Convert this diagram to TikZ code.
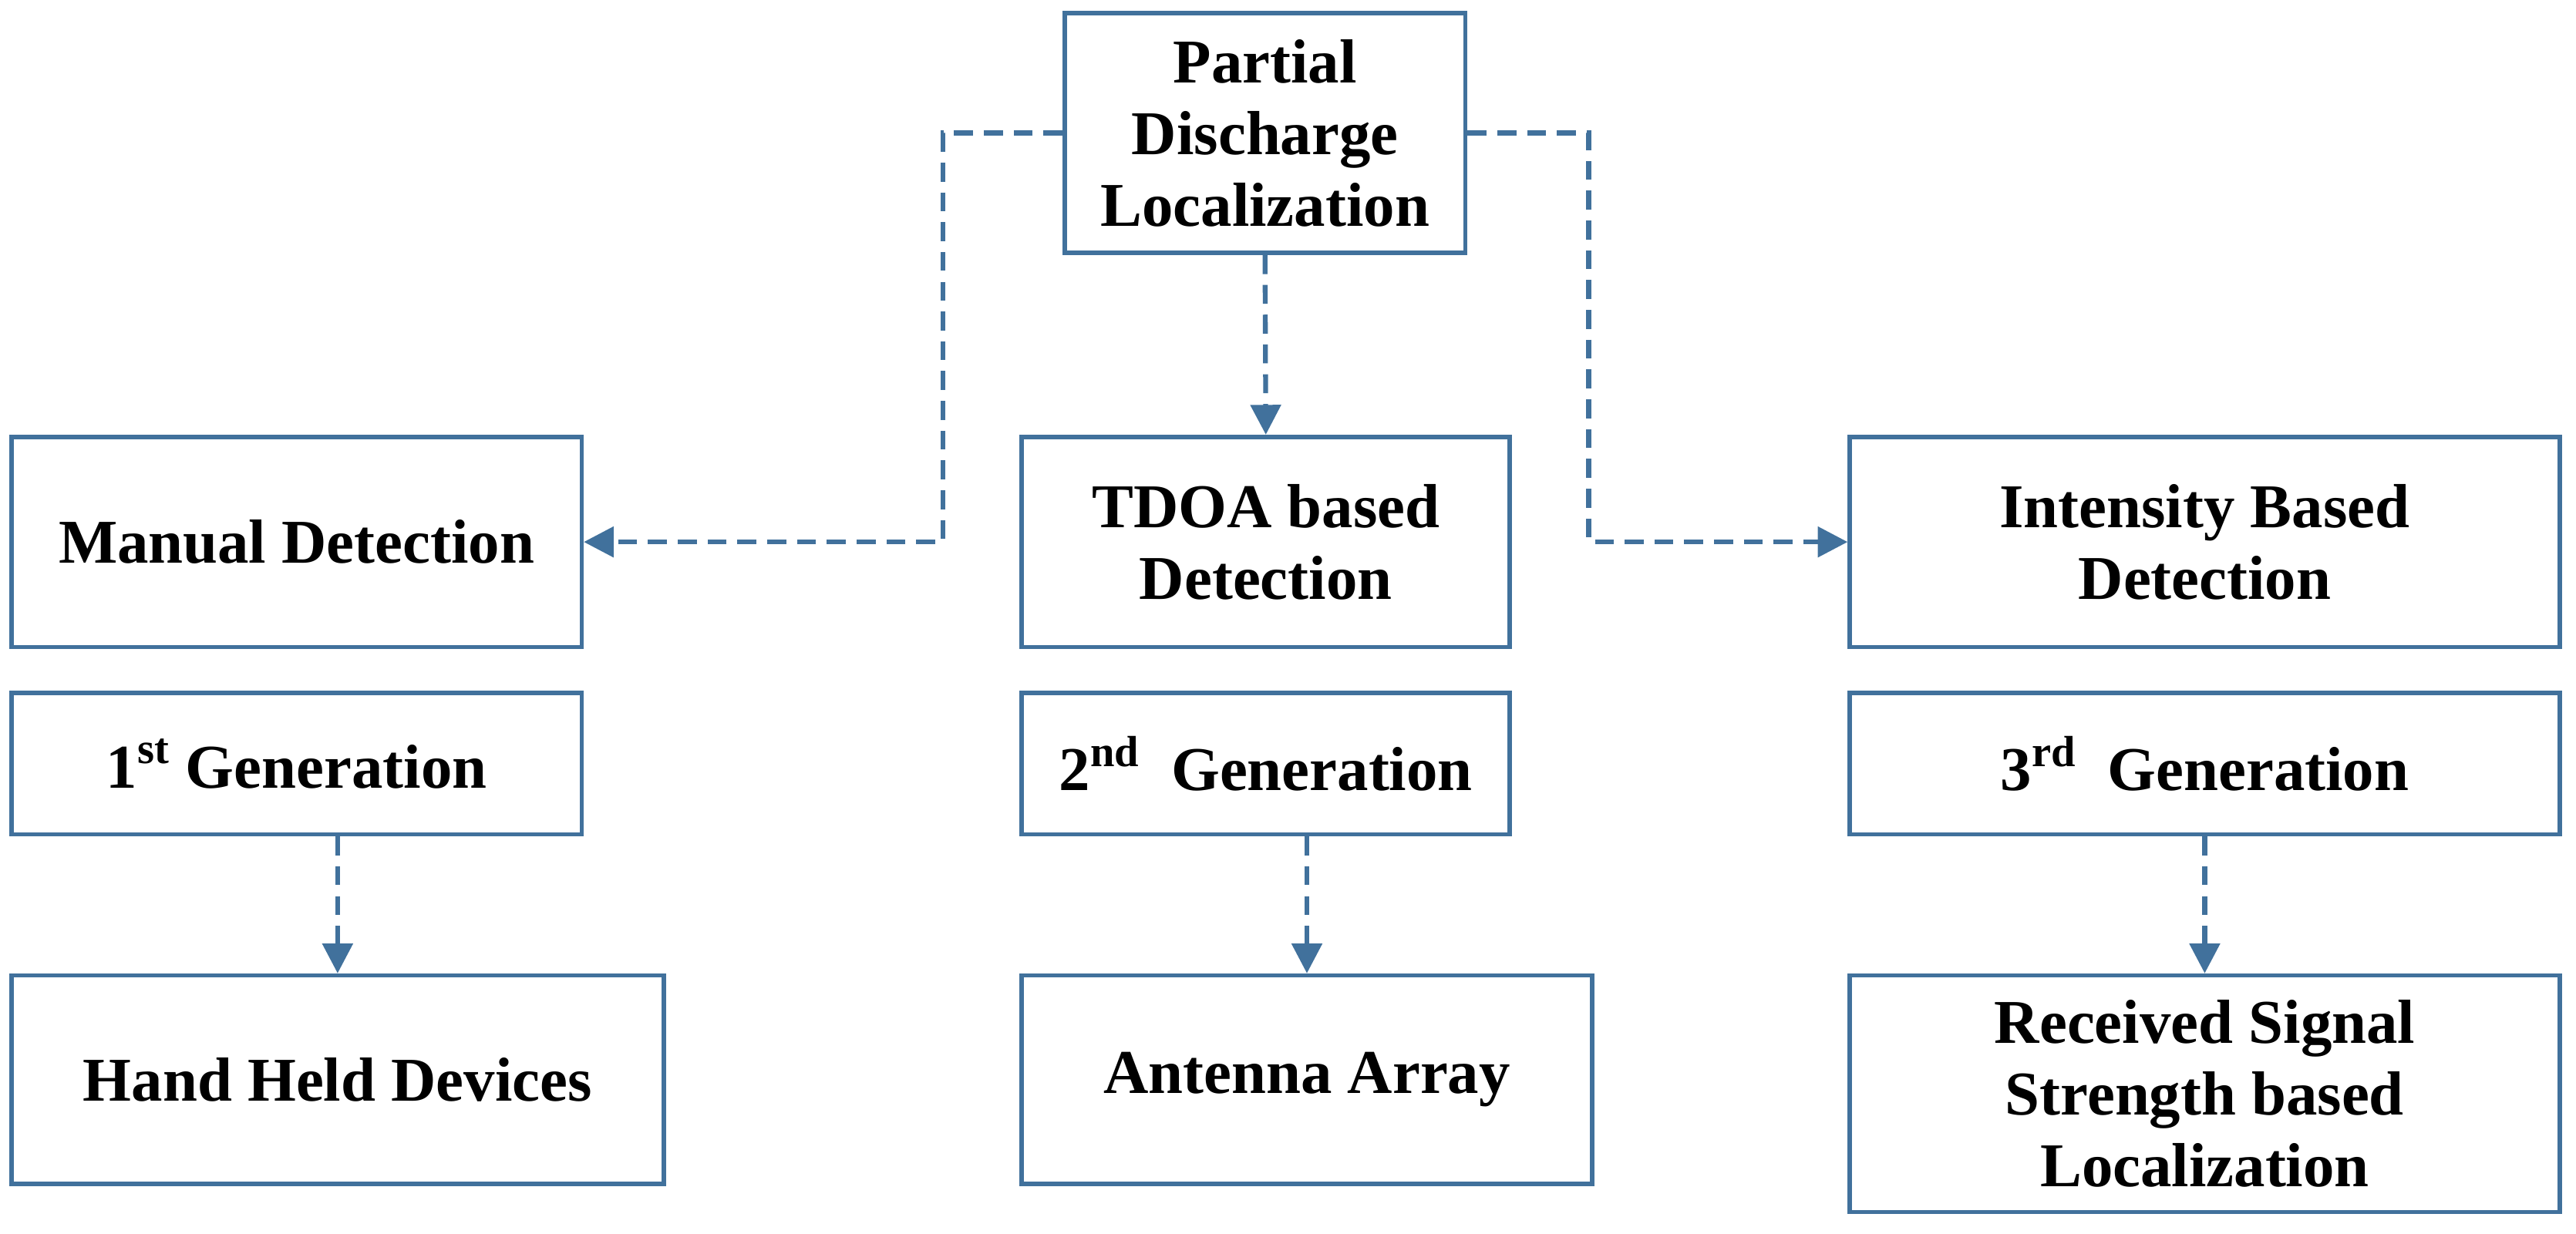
\documentclass[tikz,border=0pt]{standalone}
\usepackage{fontspec}
\setmainfont{Liberation Serif}
\usetikzlibrary{arrows.meta}
\definecolor{boxblue}{HTML}{41719C}
\tikzset{
  box/.style 2 args = {draw = boxblue, line width = 1.6pt, fill = white,
    minimum width = #1*0.6066pt, minimum height = #2*0.6066pt,
    inner sep = 0pt, align = center, font = \fontsize{23}{26.5}\selectfont\bfseries},
  link/.style = {draw = boxblue, line width = 1.8pt, dash pattern = on 7pt off 4pt,
    -{Triangle[length = 11pt, width = 11pt]}}
}
\begin{document}
\begin{tikzpicture}[x = 0.02131cm, y = -0.02131cm]
    \useasboundingbox (0,0) rectangle (1568,751);

    % root
    \node [box = {244}{146}] (root) at (770,81) {Partial\\Discharge\\Localization};

    % methods
    \node [box = {347}{128}] (manual) at (180.5,330) {Manual Detection};
    \node [box = {297}{128}] (tdoa) at (770.5,330) {TDOA based\\Detection};
    \node [box = {432}{128}] (intensity) at (1342,330) {Intensity Based\\Detection};

    % generations
    \node [box = {347}{86}] (gen1) at (180.5,465) {1\textsuperscript{st} Generation};
    \node [box = {297}{86}] (gen2) at (770.5,465) {2\textsuperscript{nd}\ \ Generation};
    \node [box = {432}{86}] (gen3) at (1342,465) {3\textsuperscript{rd}\ \ Generation};

    % devices
    \node [box = {397}{127}] (hand) at (205.5,657.5) {Hand Held Devices};
    \node [box = {347}{127}] (antenna) at (795.5,657.5) {Antenna Array};
    \node [box = {432}{144}] (rss) at (1342,666) {Received Signal\\Strength based\\Localization};

    % connections from the root
    \coordinate (lt) at (574,81);
    \coordinate (rt) at (967,81);
    \draw [link] (root.west) -- (lt) |- (manual.east);
    \draw [link] (root.east) -- (rt) |- (intensity.west);
    \draw [link] (root.south) -- (tdoa.north);

    % connections to the devices
    \draw [link] (gen1.south -| hand.north) -- (hand.north);
    \draw [link] (gen2.south -| antenna.north) -- (antenna.north);
    \draw [link] (gen3.south) -- (rss.north);
\end{tikzpicture}
\end{document}
